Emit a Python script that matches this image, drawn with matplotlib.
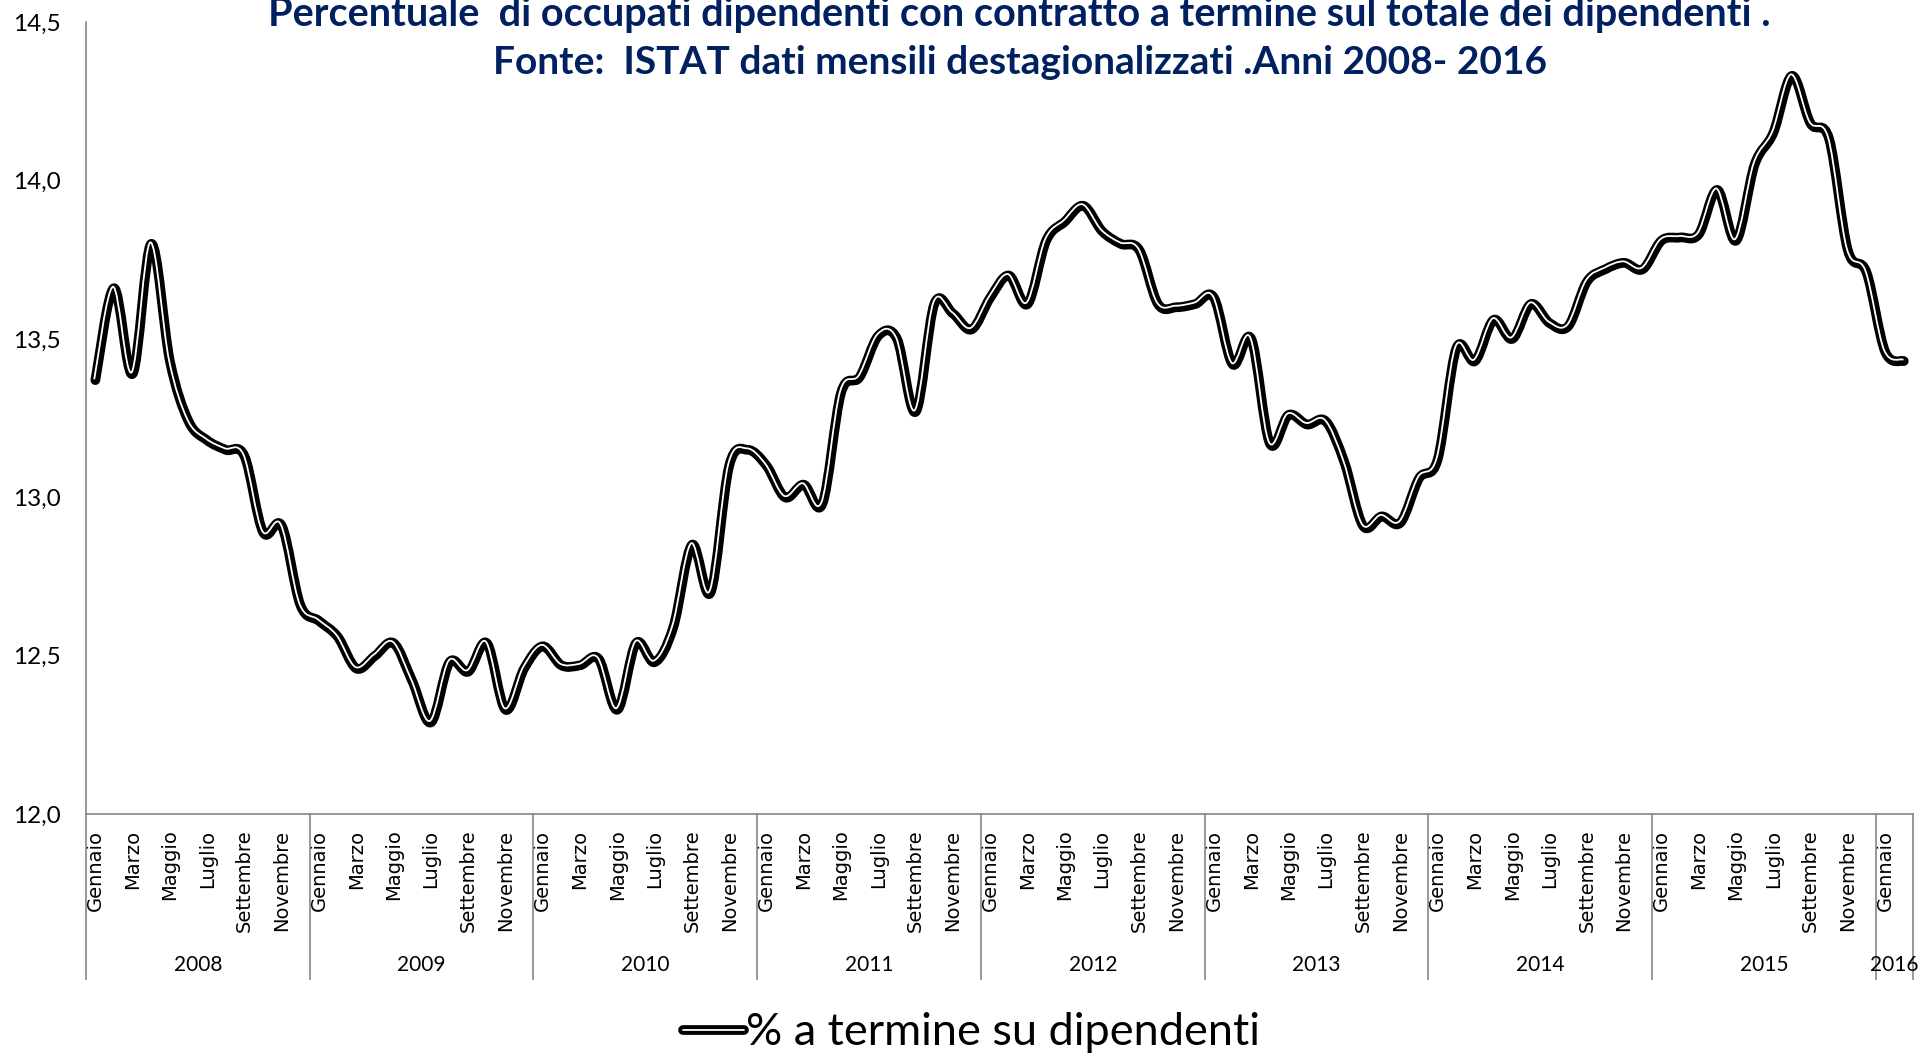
import matplotlib
matplotlib.use("Agg")
import matplotlib.pyplot as plt
import matplotlib.transforms as mtransforms
import numpy as np
from matplotlib.legend_handler import HandlerTuple
from matplotlib.lines import Line2D
from matplotlib.patches import PathPatch
from matplotlib.path import Path

YEARS = ["2008", "2009", "2010", "2011", "2012", "2013", "2014", "2015", "2016"]
MONTH_LABELS = ["Gennaio", "Marzo", "Maggio", "Luglio", "Settembre", "Novembre"]

# % dipendenti a termine sul totale dei dipendenti, dati mensili
V2008 = [13.37, 13.66, 13.39, 13.80, 13.43, 13.24, 13.18, 13.15, 13.13, 12.89, 12.91, 12.66]
V2009 = [12.61, 12.56, 12.46, 12.50, 12.54, 12.42, 12.29, 12.48, 12.45, 12.54, 12.33, 12.46]
V2010 = [12.53, 12.47, 12.47, 12.49, 12.33, 12.54, 12.48, 12.59, 12.85, 12.70, 13.10, 13.15]
V2011 = [13.10, 13.00, 13.04, 12.98, 13.33, 13.38, 13.51, 13.50, 13.27, 13.61, 13.58, 13.53]
V2012 = [13.63, 13.70, 13.61, 13.81, 13.87, 13.92, 13.84, 13.80, 13.78, 13.61, 13.60, 13.61]
V2013 = [13.63, 13.42, 13.50, 13.17, 13.26, 13.23, 13.24, 13.11, 12.91, 12.94, 12.92, 13.06]
V2014 = [13.12, 13.47, 13.43, 13.56, 13.50, 13.61, 13.55, 13.54, 13.68, 13.72, 13.74, 13.72]
V2015 = [13.81, 13.82, 13.83, 13.97, 13.81, 14.05, 14.15, 14.33, 14.18, 14.13, 13.78, 13.71]
V2016 = [13.46, 13.43]

TITLE1 = "Percentuale  di occupati dipendenti con contratto a termine sul totale dei dipendenti ."
TITLE2 = "Fonte:  ISTAT dati mensili destagionalizzati .Anni 2008- 2016"
LEGEND = "% a termine su dipendenti"

NAVY = "#002060"
GREY = "#868686"
FONT = "Lato"
LW_BLACK = 7.0
LW_WHITE = 1.3


def smooth_path(x, y):
    # Excel-style smoothed line: cubic Bezier through every point
    pts = np.column_stack([x, y])
    n = len(pts)
    verts = [pts[0]]
    codes = [Path.MOVETO]
    for i in range(n - 1):
        p0 = pts[i - 1] if i > 0 else pts[i]
        p1 = pts[i]
        p2 = pts[i + 1]
        p3 = pts[i + 2] if i + 2 < n else pts[i + 1]
        verts += [p1 + (p2 - p0) / 6, p2 - (p3 - p1) / 6, p2]
        codes += [Path.CURVE4] * 3
    return Path(verts, codes)


values = np.array(V2008 + V2009 + V2010 + V2011 + V2012 + V2013 + V2014 + V2015 + V2016)
n = len(values)
x = np.arange(n) + 0.5

fig = plt.figure(figsize=(19.2, 10.53), dpi=100)
ax = fig.add_axes([0.0448, 0.2267, 0.9516, 0.7524])

path = smooth_path(x, values)
ax.add_patch(PathPatch(path, fill=False, ec="black", lw=LW_BLACK,
                       capstyle="round", joinstyle="round", zorder=3))
white_tr = mtransforms.offset_copy(ax.transData, fig=fig, x=-1.0, y=1.5, units="dots")
ax.add_patch(PathPatch(path, fill=False, ec="white", lw=LW_WHITE,
                       capstyle="round", joinstyle="round", transform=white_tr, zorder=4))

ax.set_xlim(0, n)
ax.set_ylim(12, 14.5)
ax.set_yticks(np.arange(12, 14.51, 0.5))
ax.set_yticklabels([f"{v:.1f}".replace(".", ",") for v in np.arange(12, 14.51, 0.5)],
                   fontfamily=FONT, fontsize=17.5)
ax.tick_params(axis="y", length=0, pad=18)

ticks = list(range(0, n, 2))
ax.set_xticks([t + 0.5 for t in ticks])
ax.set_xticklabels([MONTH_LABELS[(t % 12) // 2] for t in ticks], rotation=90,
                   fontfamily="DejaVu Sans", fontsize=14)
ax.tick_params(axis="x", length=0, pad=11)

for s in ["top", "right"]:
    ax.spines[s].set_visible(False)
for s in ["left", "bottom"]:
    ax.spines[s].set_color(GREY)
    ax.spines[s].set_linewidth(1.2)

# year separators and year labels under the month labels
blend = mtransforms.blended_transform_factory(ax.transData, ax.transAxes)
bounds = list(range(0, n, 12)) + [n]
for b in bounds:
    ax.plot([b, b], [0, -0.208], transform=blend, color=GREY, lw=1.2, clip_on=False)
for k, yr in enumerate(YEARS):
    start = 12 * k
    end = min(start + 12, n)
    ax.text((start + end) / 2, -0.19, yr, transform=blend, ha="center", va="center",
            fontfamily=FONT, fontsize=15)

fig.text(0.531, 0.986, TITLE1, ha="center", va="center", color=NAVY,
         fontfamily=FONT, fontweight="bold", fontsize=28.5)
fig.text(0.531, 0.941, TITLE2, ha="center", va="center", color=NAVY,
         fontfamily=FONT, fontweight="bold", fontsize=28)

h_black = Line2D([], [], color="black", lw=LW_BLACK, solid_capstyle="round")
h_white = Line2D([], [], color="white", lw=LW_WHITE, solid_capstyle="round")
fig.legend(handles=[(h_black, h_white)], labels=[LEGEND],
           handler_map={tuple: HandlerTuple(ndivide=1, pad=0)},
           loc="center", bbox_to_anchor=(0.506, 0.019), frameon=False,
           prop={"family": FONT, "size": 32.5}, handlelength=1.35, handletextpad=0.05)

fig.savefig("out.png", dpi=100)
